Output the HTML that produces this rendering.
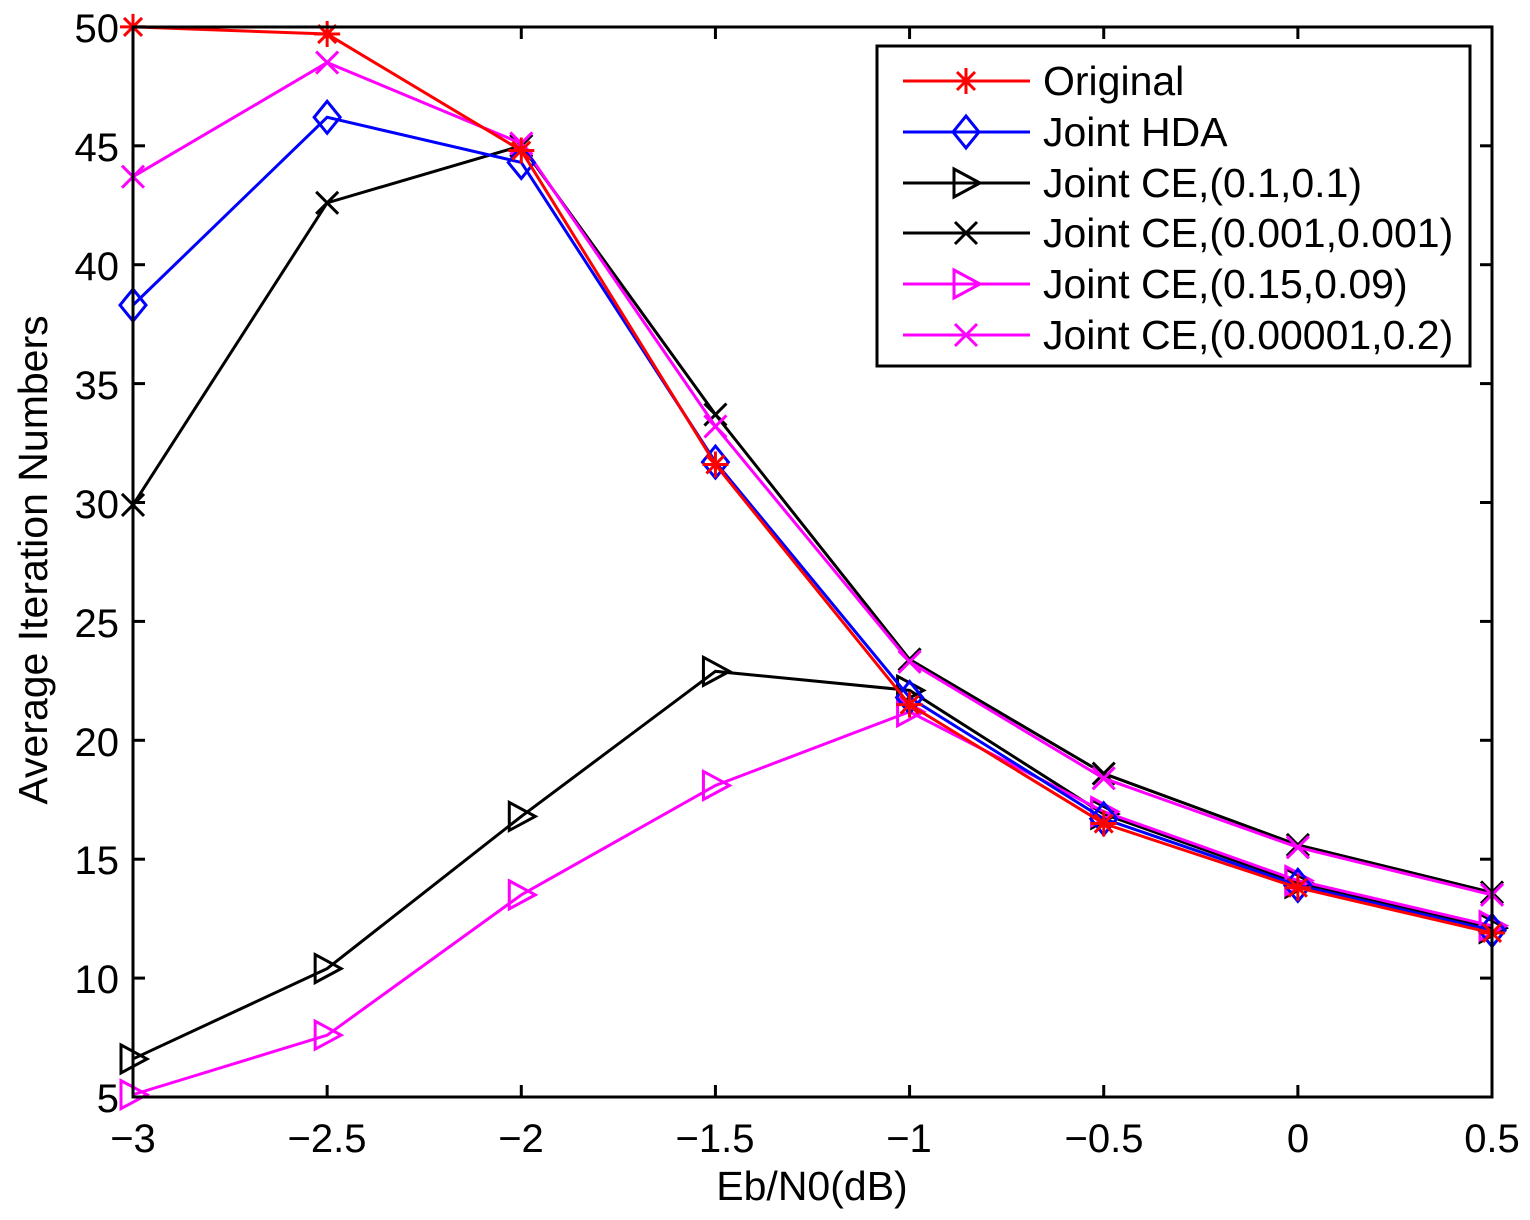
<!DOCTYPE html>
<html><head><meta charset="utf-8"><style>
html,body{margin:0;padding:0;background:#fff;}
svg{display:block;font-family:"Liberation Sans",sans-serif;}
</style></head><body>
<svg id="s" width="1530" height="1220" viewBox="0 0 1530 1220" xmlns="http://www.w3.org/2000/svg">
<rect width="1530" height="1220" fill="#fff"/>
<g id="ticks" stroke="#000" stroke-width="3"></g>
<g font-size="40" fill="#000" text-anchor="end">
<text x="119" y="42">50</text><text x="119" y="161">45</text><text x="119" y="280">40</text>
<text x="119" y="399">35</text><text x="119" y="518">30</text><text x="119" y="637">25</text>
<text x="119" y="756">20</text><text x="119" y="874">15</text><text x="119" y="993">10</text>
<text x="119" y="1112">5</text>
</g>
<g font-size="40" fill="#000" text-anchor="middle">
<text x="133" y="1152">−3</text><text x="327" y="1152">−2.5</text><text x="521" y="1152">−2</text>
<text x="715" y="1152">−1.5</text><text x="909" y="1152">−1</text><text x="1104" y="1152">−0.5</text>
<text x="1298" y="1152">0</text><text x="1492" y="1152">0.5</text>
</g>
<g font-size="41" fill="#000" text-anchor="middle">
<text x="812" y="1200">Eb/N0(dB)</text>
<text transform="translate(47,560) rotate(-90)">Average Iteration Numbers</text>
</g>
<g id="data"></g>
<rect x="877" y="46" width="593" height="320" fill="#fff" stroke="#000" stroke-width="3"/>
<g id="leg"></g>
<g font-size="41" fill="#000">
<text x="1043" y="95">Original</text>
<text x="1043" y="146">Joint HDA</text>
<text x="1043" y="197">Joint CE,(0.1,0.1)</text>
<text x="1043" y="247">Joint CE,(0.001,0.001)</text>
<text x="1043" y="298">Joint CE,(0.15,0.09)</text>
<text x="1043" y="349">Joint CE,(0.00001,0.2)</text>
</g>
<rect x="133" y="27" width="1359" height="1070" fill="none" stroke="#000" stroke-width="3"/>
</svg>
<script>
function X(x){return 133+(x+3)*388.29;}
function Y(y){return 1097-(y-5)*23.78;}
var t=document.getElementById('ticks'),h='';
for(var i=0;i<8;i++){var x=X(-3+i*0.5);h+='<line x1="'+x+'" y1="1097" x2="'+x+'" y2="1085"/><line x1="'+x+'" y1="27" x2="'+x+'" y2="39"/>';}
for(var j=0;j<10;j++){var y=Y(5+j*5);h+='<line x1="133" y1="'+y+'" x2="145" y2="'+y+'"/><line x1="1492" y1="'+y+'" x2="1480" y2="'+y+'"/>';}
t.innerHTML=h;
function mk(type,x,y,c){
 var s='';var r=13;
 if(type=='star'){s='<path d="M'+(x-r)+' '+y+'H'+(x+r)+'M'+x+' '+(y-r)+'V'+(y+r)+'M'+(x-9)+' '+(y-9)+'L'+(x+9)+' '+(y+9)+'M'+(x-9)+' '+(y+9)+'L'+(x+9)+' '+(y-9)+'" stroke="'+c+'" stroke-width="3" fill="none"/>';}
 if(type=='dia'){s='<path d="M'+x+' '+(y-16)+'L'+(x+13)+' '+y+'L'+x+' '+(y+16)+'L'+(x-13)+' '+y+'Z" stroke="'+c+'" stroke-width="3" fill="none"/>';}
 if(type=='tri'){s='<path d="M'+(x-12)+' '+(y-14)+'L'+(x+14)+' '+y+'L'+(x-12)+' '+(y+14)+'Z" stroke="'+c+'" stroke-width="3" fill="none"/>';}
 if(type=='x'){s='<path d="M'+(x-11)+' '+(y-11)+'L'+(x+11)+' '+(y+11)+'M'+(x-11)+' '+(y+11)+'L'+(x+11)+' '+(y-11)+'" stroke="'+c+'" stroke-width="3" fill="none"/>';}
 return s;
}
var xs=[-3,-2.5,-2,-1.5,-1,-0.5,0,0.5];
var S=[
['tri','#000',[6.6,10.4,16.8,22.9,22.1,16.9,14.0,12.1]],
['tri','#f0f',[5.1,7.6,13.5,18.1,21.2,17.0,14.1,12.2]],
['x','#000',[29.9,42.6,45.0,33.7,23.4,18.6,15.6,13.6]],
['x','#f0f',[43.7,48.5,45.1,33.2,23.3,18.4,15.5,13.5]],
['dia','#00f',[38.3,46.2,44.3,31.7,21.8,16.7,13.9,12.0]],
['star','#f00',[50,49.7,44.8,31.6,21.5,16.5,13.8,11.9]]
];
var d='';
S.forEach(function(s){var p=s[2].map(function(v,i){return X(xs[i])+','+Y(v);}).join(' ');
 d+='<polyline points="'+p+'" fill="none" stroke="'+s[1]+'" stroke-width="3"/>';
 s[2].forEach(function(v,i){d+=mk(s[0],X(xs[i]),Y(v),s[1]);});});
document.getElementById('data').innerHTML=d;
var L=[['star','#f00',81],['dia','#00f',132],['tri','#000',183],['x','#000',233],['tri','#f0f',284],['x','#f0f',335]];
var l='';L.forEach(function(a){l+='<line x1="903" y1="'+a[2]+'" x2="1030" y2="'+a[2]+'" stroke="'+a[1]+'" stroke-width="3"/>'+mk(a[0],966,a[2],a[1]);});
document.getElementById('leg').innerHTML=l;
</script>
</body></html>
